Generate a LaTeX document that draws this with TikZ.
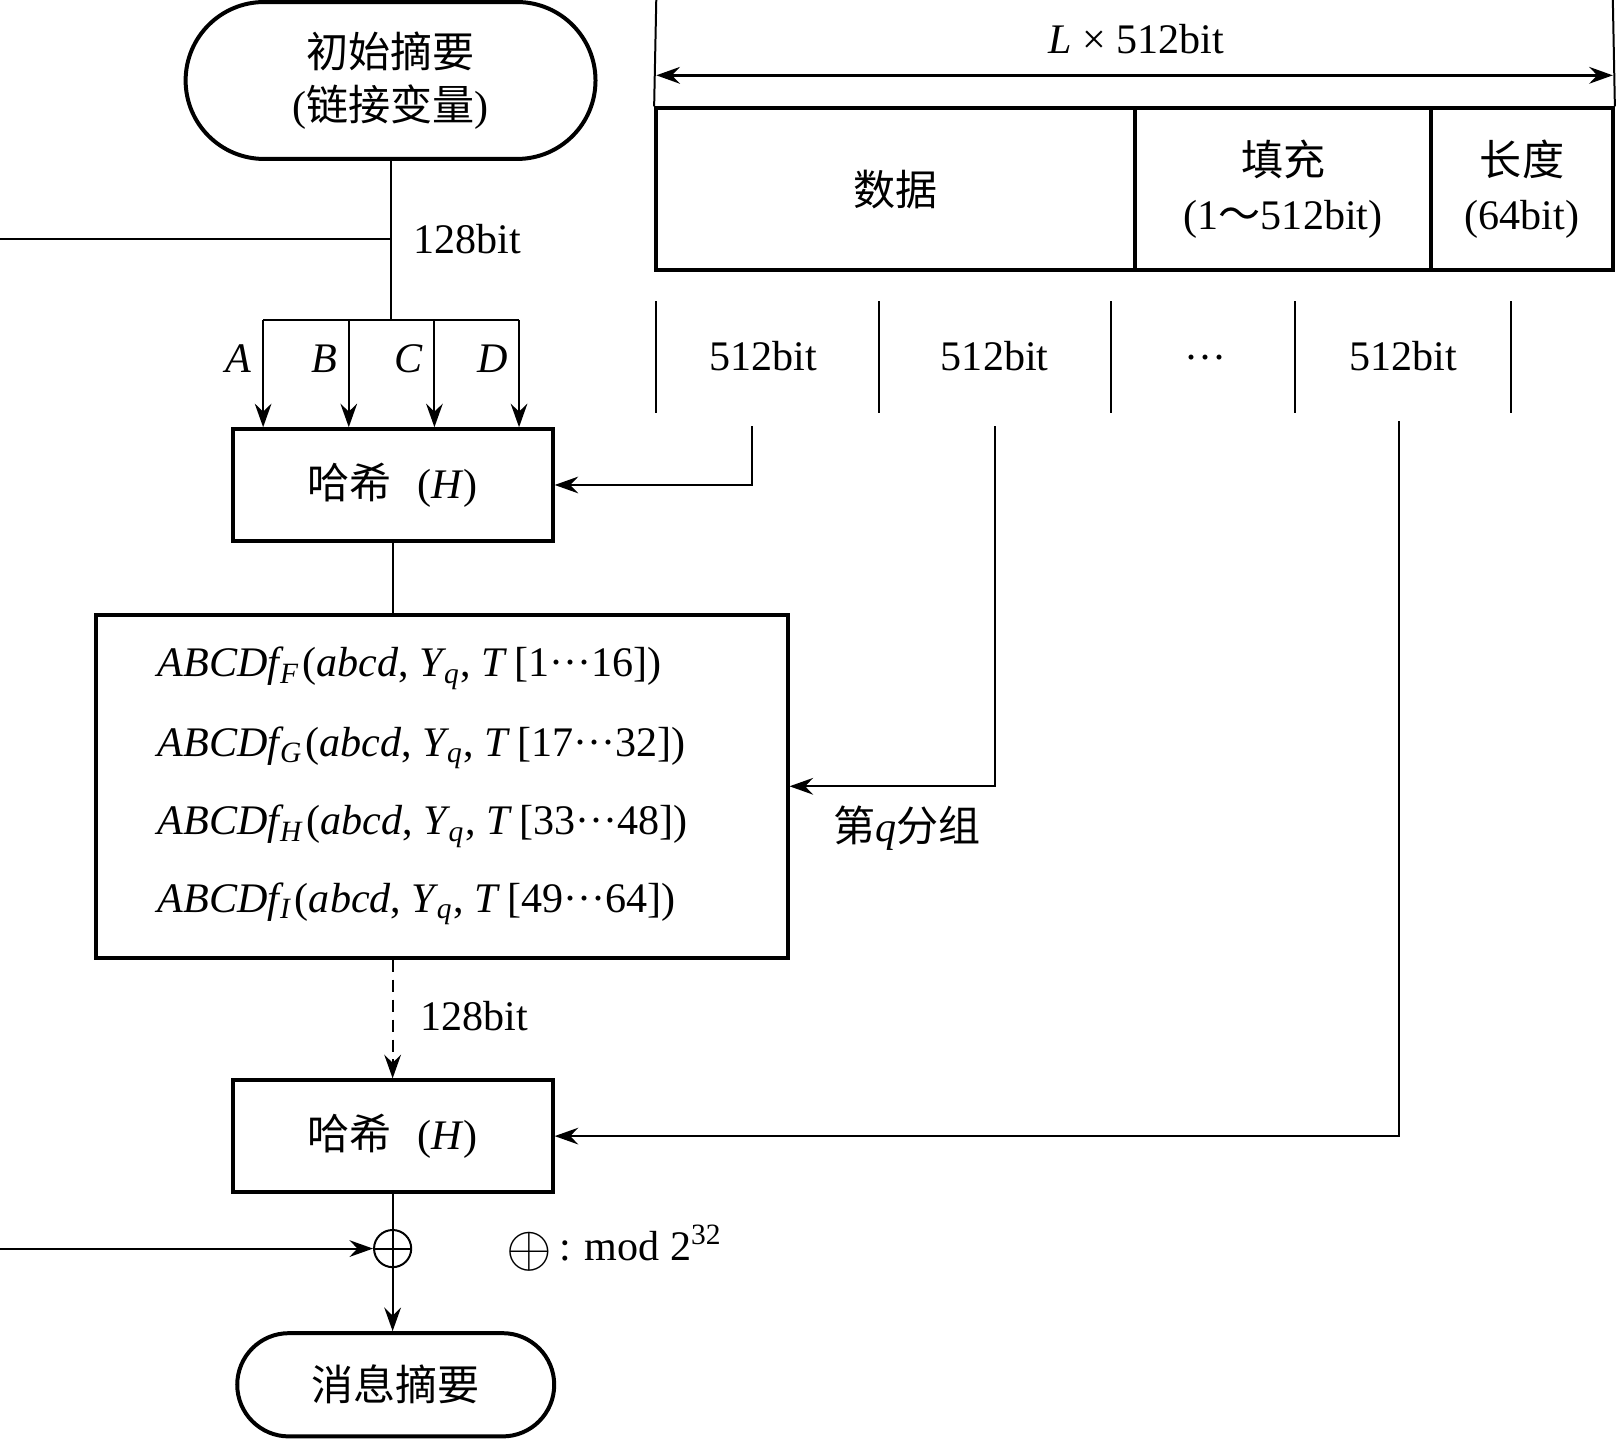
\documentclass[tikz,border=0pt]{standalone}
\usepackage{fontspec}
\setmainfont{Liberation Serif}
\newfontfamily\cjk{Noto Sans CJK SC}
\usetikzlibrary{arrows.meta}
\newcommand\fnline[2]{\textit{ABCDf}\kern-0.1em\textsubscript{\textit{#1}}\kern0.05em(\textit{abcd}, \textit{Y}\kern-0.05em\textsubscript{\textit{q}}, \textit{T}\,[#2])}
\begin{document}
\begin{tikzpicture}[x=0.01cm,y=-0.01cm,
  font=\fontsize{11.6pt}{13.6pt}\selectfont,
  line width=0.55pt,
  box/.style={draw, line width=1.1pt, inner sep=0pt},
  tip/.style={-{Stealth[length=6.5pt,width=4.6pt,inset=2.2pt]}},
  dtip/.style={{Stealth[length=6.5pt,width=4.6pt,inset=2.2pt]}-{Stealth[length=6.5pt,width=4.6pt,inset=2.2pt]}}]
\useasboundingbox (0,0) rectangle (1568,1394);

% left column nodes
\node[box, rounded corners=0.76cm, minimum width=3.97cm, minimum height=1.52cm, align=center] (init) at (378.5,78) {{\cjk 初始摘要}\\[0.1em]({\cjk 链接变量})};
\node[box, minimum width=3.10cm, minimum height=1.08cm] (h1) at (380.5,470) {{\cjk 哈希}\hspace{0.6em}(\textit{H})};
\node[box, minimum width=6.70cm, minimum height=3.32cm] (big) at (428,762) {};
\node[box, minimum width=3.10cm, minimum height=1.08cm] (h2) at (380.5,1101) {{\cjk 哈希}\hspace{0.6em}(\textit{H})};
\node[circle, draw, line width=0.55pt, minimum size=0.36cm, inner sep=0pt] (x) at (380.5,1210) {};
\draw (x.north) -- (x.south);
\draw (x.west) -- (x.east);
\node[box, rounded corners=0.5cm, minimum width=3.07cm, minimum height=1.00cm] (msg) at (383.5,1342) {\cjk 消息摘要};

% formula lines
\node[anchor=base west, inner sep=0pt] (f1) at (152,656) {\fnline{F}{1···16}};
\node[anchor=base west, inner sep=0pt] (f2) at (152,733) {\fnline{G}{17···32}};
\node[anchor=base west, inner sep=0pt] (f3) at (152,809) {\fnline{H}{33···48}};
\node[anchor=base west, inner sep=0pt] (f4) at (152,884) {\fnline{I}{49···64}};

% message block
\node[box, minimum width=4.64cm, minimum height=1.57cm] (data) at (868,183.5) {\cjk 数据};
\node[box, minimum width=2.87cm, minimum height=1.57cm, align=center] (pad) at (1243.5,183.5) {{\cjk 填充}\\[0.1em](1{\cjk ～}512bit)};
\node[box, minimum width=1.76cm, minimum height=1.57cm, align=center] (len) at (1475,183.5) {{\cjk 长度}\\[0.1em](64bit)};

% dimension
\coordinate (dl) at (636,0);
\coordinate (dr) at (1563,0);
\draw (dl) -- (data.north west);
\draw (dr) -- (len.north east);
\coordinate (al) at (636,73);
\coordinate (ar) at (1563,73);
\draw[dtip, line width=0.9pt] (al) -- (ar);
\node (Lt) at (1101,38) {\textit{L} × 512bit};

% segments
\foreach \t in {636,852,1077,1255,1464} \draw (\t,292) -- (\t,400);
\node (s1) at (740,345) {512bit};
\node (s2) at (964,345) {512bit};
\node (s3) at (1168,352) {···};
\node (s4) at (1360,345) {512bit};

% top connectors
\coordinate (split) at (378.5,310);
\draw (init.south) -- (split);
\coordinate (fb) at (0,232);
\draw (fb) -- (fb -| init.south);
\node[anchor=west] (l128a) at (388,232) {128bit};
\coordinate (tA) at (255,310);
\coordinate (tD) at (503,310);
\draw (tA) -- (tD);
\foreach \xx/\ll in {255/A,338/B,421/C,503/D}{
  \coordinate (t\ll) at (\xx,310);
  \draw[tip] (t\ll) -- (t\ll |- h1.north);
  \node[anchor=east, inner sep=0pt] (l\ll) at (\xx-10,348) {\textit{\ll}};
}

% side inputs
\coordinate (c1) at (729,413);
\draw[tip] (c1) |- (h1.east);
\coordinate (c2) at (964,413);
\draw[tip] (c2) |- (big.east);
\coordinate (c3) at (1356,408);
\draw[tip] (c3) |- (h2.east);
\node (grp) at (879,803) {{\cjk 第}\textit{q}{\cjk 分组}};

% lower flow
\draw (h1.south) -- (h1.south |- big.north);
\draw[tip, dash pattern=on 3.5pt off 2pt] (big.south -| h2.north) -- (h2.north);
\node[anchor=west] (l128b) at (395,985) {128bit};
\draw (h2.south) -- (x.north);
\draw[tip] (x.south) -- (x.south |- msg.north);
\coordinate (in) at (0,1210);
\draw[tip] (in) -- (x.west);
\node[anchor=west] (modl) at (478,1210) {\raisebox{-0.15em}{\scalebox{1.35}{$\oplus$}}\,: mod 2\textsuperscript{32}};
\end{tikzpicture}
\end{document}
